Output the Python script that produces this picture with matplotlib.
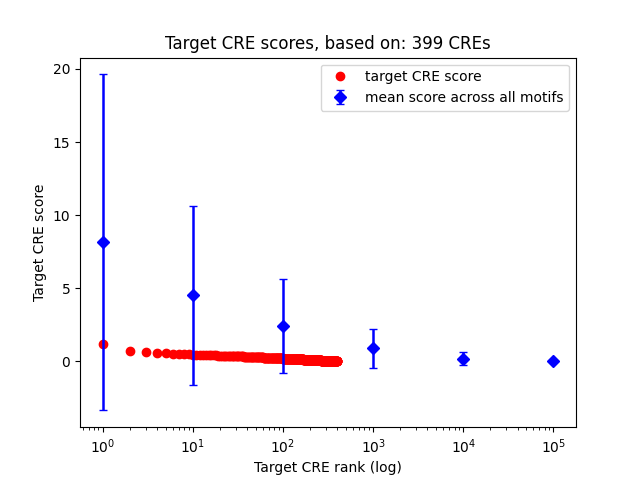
import numpy as np
import matplotlib
matplotlib.use('Agg')
import matplotlib.pyplot as plt

# target CRE scores, sorted by rank (399 CREs)
cre_scores = [
    1.15, 0.70, 0.62, 0.58, 0.54, 0.51, 0.49, 0.47, 0.46, 0.45, 0.44, 0.43, 0.42, 0.41, 0.41, 0.40, 0.39, 0.39, 0.38, 0.38,
    0.37, 0.37, 0.36, 0.36, 0.35, 0.35, 0.35, 0.34, 0.34, 0.34, 0.33, 0.33, 0.33, 0.32, 0.32, 0.32, 0.31, 0.31, 0.31, 0.30,
    0.30, 0.30, 0.30, 0.29, 0.29, 0.29, 0.29, 0.28, 0.28, 0.28, 0.28, 0.27, 0.27, 0.27, 0.27, 0.26, 0.26, 0.26, 0.26, 0.26,
    0.25, 0.25, 0.25, 0.25, 0.25, 0.24, 0.24, 0.24, 0.24, 0.24, 0.23, 0.23, 0.23, 0.23, 0.23, 0.22, 0.22, 0.22, 0.22, 0.22,
    0.22, 0.21, 0.21, 0.21, 0.21, 0.21, 0.21, 0.20, 0.20, 0.20, 0.20, 0.20, 0.20, 0.19, 0.19, 0.19, 0.19, 0.19, 0.19, 0.18,
    0.18, 0.18, 0.18, 0.18, 0.18, 0.18, 0.17, 0.17, 0.17, 0.17, 0.17, 0.17, 0.17, 0.17, 0.17, 0.17, 0.16, 0.16, 0.16, 0.16,
    0.16, 0.16, 0.16, 0.16, 0.16, 0.16, 0.15, 0.15, 0.15, 0.15, 0.15, 0.15, 0.15, 0.15, 0.15, 0.15, 0.14, 0.14, 0.14, 0.14,
    0.14, 0.14, 0.14, 0.14, 0.14, 0.14, 0.13, 0.13, 0.13, 0.13, 0.13, 0.13, 0.13, 0.13, 0.13, 0.13, 0.13, 0.12, 0.12, 0.12,
    0.12, 0.12, 0.12, 0.12, 0.12, 0.12, 0.12, 0.12, 0.11, 0.11, 0.11, 0.11, 0.11, 0.11, 0.11, 0.11, 0.11, 0.11, 0.10, 0.10,
    0.10, 0.10, 0.10, 0.10, 0.10, 0.10, 0.10, 0.10, 0.09, 0.09, 0.09, 0.09, 0.09, 0.09, 0.09, 0.09, 0.09, 0.09, 0.08, 0.08,
    0.08, 0.08, 0.08, 0.08, 0.08, 0.08, 0.08, 0.08, 0.08, 0.08, 0.07, 0.07, 0.07, 0.07, 0.07, 0.07, 0.07, 0.07, 0.07, 0.07,
    0.07, 0.07, 0.07, 0.07, 0.07, 0.06, 0.06, 0.06, 0.06, 0.06, 0.06, 0.06, 0.06, 0.06, 0.06, 0.06, 0.06, 0.06, 0.06, 0.06,
    0.06, 0.06, 0.06, 0.06, 0.06, 0.05, 0.05, 0.05, 0.05, 0.05, 0.05, 0.05, 0.05, 0.05, 0.05, 0.05, 0.05, 0.05, 0.05, 0.05,
    0.05, 0.05, 0.05, 0.05, 0.05, 0.04, 0.04, 0.04, 0.04, 0.04, 0.04, 0.04, 0.04, 0.04, 0.04, 0.04, 0.04, 0.04, 0.04, 0.04,
    0.04, 0.04, 0.04, 0.04, 0.04, 0.04, 0.04, 0.04, 0.03, 0.03, 0.03, 0.03, 0.03, 0.03, 0.03, 0.03, 0.03, 0.03, 0.03, 0.03,
    0.03, 0.03, 0.03, 0.03, 0.03, 0.03, 0.03, 0.03, 0.03, 0.03, 0.02, 0.02, 0.02, 0.02, 0.02, 0.02, 0.02, 0.02, 0.02, 0.02,
    0.02, 0.02, 0.02, 0.02, 0.02, 0.02, 0.02, 0.02, 0.02, 0.02, 0.02, 0.02, 0.02, 0.02, 0.02, 0.02, 0.02, 0.02, 0.02, 0.02,
    0.02, 0.02, 0.02, 0.02, 0.02, 0.01, 0.01, 0.01, 0.01, 0.01, 0.01, 0.01, 0.01, 0.01, 0.01, 0.01, 0.01, 0.01, 0.01, 0.01,
    0.01, 0.01, 0.01, 0.01, 0.01, 0.01, 0.01, 0.01, 0.01, 0.01, 0.01, 0.01, 0.01, 0.01, 0.01, 0.01, 0.01, 0.01, 0.01, 0.00,
    0.00, 0.00, 0.00, 0.00, 0.00, 0.00, 0.00, 0.00, 0.00, 0.00, 0.00, 0.00, 0.00, 0.00, 0.00, 0.00, 0.00, 0.00, 0.00,
]
cre_ranks = np.arange(1, len(cre_scores) + 1)

# mean score across all motifs at log-spaced ranks
motif_ranks = [1, 10, 100, 1000, 10000, 100000]
motif_means = [8.13, 4.50, 2.40, 0.88, 0.18, 0.04]
motif_std = [11.5, 6.15, 3.2, 1.33, 0.47, 0.02]

fig, ax = plt.subplots(figsize=(6.4, 4.8), dpi=100)
ax.plot(cre_ranks, cre_scores, 'o', color='red', label='target CRE score')
ax.errorbar(motif_ranks, motif_means, yerr=motif_std, fmt='D', color='blue',
            elinewidth=1.8, capsize=3, label='mean score across all motifs')
ax.set_xscale('log')
ax.set_title('Target CRE scores, based on: %d CREs' % len(cre_scores))
ax.set_xlabel('Target CRE rank (log)')
ax.set_ylabel('Target CRE score')
ax.legend(loc='upper right')
fig.savefig('out.png')
